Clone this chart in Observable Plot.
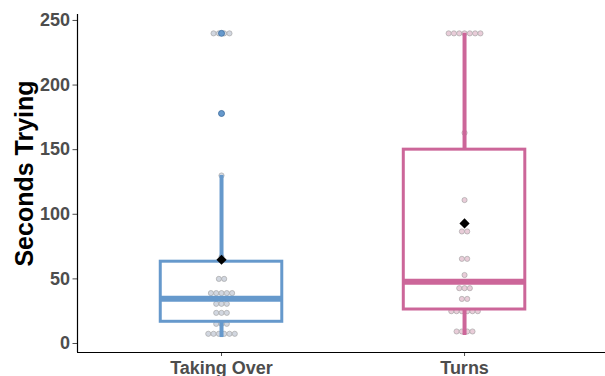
<!DOCTYPE html>
<html>
<head>
<meta charset="utf-8">
<script src="https://cdn.jsdelivr.net/npm/d3@7"></script>
<script src="https://cdn.jsdelivr.net/npm/@observablehq/plot@0.6"></script>
<style>
  html, body { margin: 0; padding: 0; background: #fff; overflow: hidden; }
  svg { font-family: "Liberation Sans", Arial, Helvetica, sans-serif; }
  g[aria-label="y-axis tick label"] text, g[aria-label="x-axis tick label"] text { font-weight: bold; }
</style>
</head>
<body>
<div id="chart"></div>
<script>
// ---- data ----
const categories = ["Taking Over", "Turns"];
const boxColors = ["#6699CC", "#CC6699"];
const dotFills = ["#d2d7e0", "#e9cdd9"];
const q1Values = [16.8, 26.3];
const medianValues = [34.6, 47.7];
const q3Values = [63.3, 150];
const whiskerLow = [4.6, 6.2];
const whiskerHigh = [130, 240];
const meanValues = [64.8, 92.9];
const outlierGroups = ["Taking Over", "Taking Over"];
const outlierValues = [178, 240];
const takingOverValues = [240, 240, 240, 240, 178, 130, 67, 50, 50, 39, 39, 39, 39, 39,
  30.7, 30.7, 30.7, 23.7, 23.7, 23.7, 15.2, 15.2, 15.2, 7.5, 7.5, 7.5, 7.5, 7.5, 7.5];
const turnsValues = [240, 240, 240, 240, 240, 240, 240, 163, 111, 86.7, 86.7, 65.5, 65.5, 53,
  42.8, 42.8, 42.8, 34.5, 34.5, 25, 25, 25, 25, 25, 25, 9.3, 9.3, 9.3, 9.3];
const yTicks = [0, 50, 100, 150, 200, 250];

// ---- derived tables ----
const pos = c => categories.indexOf(c) + 1;
const boxes = categories.map((c, i) => ({
  cat: c, x: i + 1, q1: q1Values[i], med: medianValues[i], q3: q3Values[i],
  lo: whiskerLow[i], hi: whiskerHigh[i], mean: meanValues[i], color: boxColors[i], fill: dotFills[i]
}));
const halfWidth = 0.25;
const dotStep = 5.3 / 243; // dot spacing in x units
function stackDots(values, cat) {
  const counts = d3.rollup(values, v => v.length, v => v);
  const seen = new Map();
  return values.map(v => {
    const k = counts.get(v);
    const j = seen.get(v) || 0;
    seen.set(v, j + 1);
    return {cat, value: v, x: pos(cat) + (j - (k - 1) / 2) * dotStep};
  });
}
const dots = [...stackDots(takingOverValues, "Taking Over"), ...stackDots(turnsValues, "Turns")];
const outliers = outlierValues.map((v, i) => ({cat: outlierGroups[i], x: pos(outlierGroups[i]), value: v}));

const xDomain = [0.4074, 2.580];
const yDomain = [-6.97, 254.6];

const chart = Plot.plot({
  width: 605,
  height: 376,
  marginLeft: 77,
  marginRight: 0,
  marginTop: 14,
  marginBottom: 24,
  x: {type: "linear", domain: xDomain},
  y: {domain: yDomain},
  marks: [
    // data dots
    Plot.dot(dots, {x: "x", y: "value", r: 2.6,
      fill: d => dotFills[pos(d.cat) - 1], stroke: "#9d9d9d", strokeWidth: 0.6}),
    // whiskers
    Plot.ruleX(boxes, {x: "x", y1: "lo", y2: "q1", stroke: "color", strokeWidth: 4}),
    Plot.ruleX(boxes, {x: "x", y1: "q3", y2: "hi", stroke: "color", strokeWidth: 4}),
    // boxes
    Plot.rect(boxes, {x1: d => d.x - halfWidth, x2: d => d.x + halfWidth, y1: "q1", y2: "q3",
      fill: "none", stroke: "color", strokeWidth: 3}),
    // medians
    Plot.ruleY(boxes, {y: "med", x1: d => d.x - halfWidth, x2: d => d.x + halfWidth,
      stroke: "color", strokeWidth: 6}),
    // outliers
    Plot.dot(outliers, {x: "x", y: "value", r: 3,
      fill: d => boxColors[pos(d.cat) - 1], stroke: "#3f6f9f", strokeWidth: 0.8}),
    // means
    Plot.dot(boxes, {x: "x", y: "mean", symbol: "diamond2", r: 4.6, fill: "black", stroke: "none"}),
    // axes
    Plot.axisY({ticks: yTicks, tickSize: 4.5, tickPadding: 3, fontSize: 18,
      color: "#4d4d4d", label: null}),
    Plot.axisX({ticks: [1, 2], tickFormat: d => categories[d - 1], tickSize: 4, tickPadding: 4.5,
      fontSize: 18, color: "#4d4d4d", label: null}),
    Plot.ruleX([xDomain[0]], {stroke: "black", strokeWidth: 1.2}),
    Plot.ruleY([yDomain[0]], {stroke: "black", strokeWidth: 1.2}),
    Plot.text(["Seconds Trying"], {frameAnchor: "left", textAnchor: "middle", dx: -53, dy: -10, rotate: -90,
      fontSize: 25, fontWeight: "bold", fill: "black"})
  ]
});
document.getElementById("chart").appendChild(chart);
</script>
</body>
</html>
